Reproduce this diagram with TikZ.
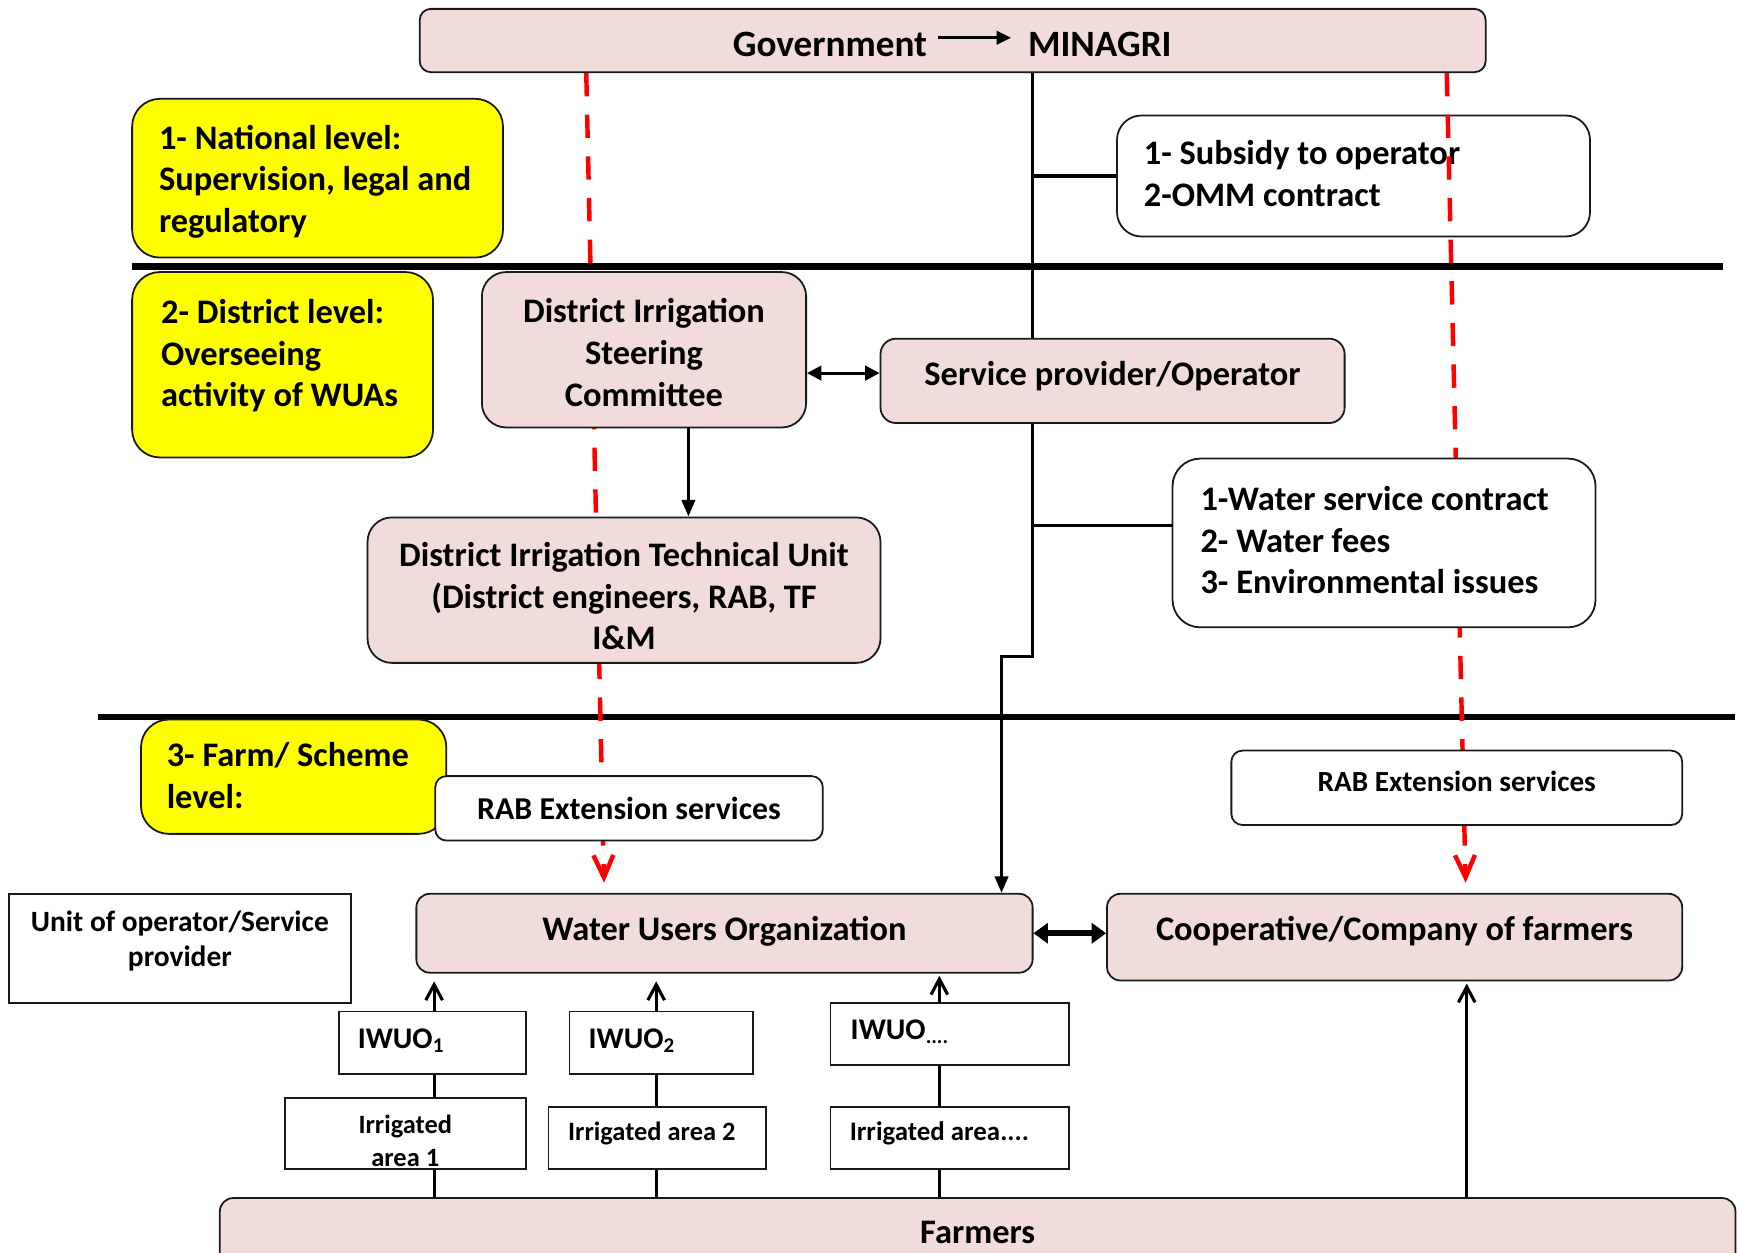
\documentclass[tikz,border=0pt]{standalone}
\usepackage{fontspec}
\setmainfont{Carlito}
\usetikzlibrary{arrows.meta,calc}
\definecolor{pinkbox}{HTML}{F2DCDB}
\definecolor{yel}{HTML}{FFFF00}
\definecolor{redd}{HTML}{FF0000}
\begin{document}
\begin{tikzpicture}[x=1pt,y=-1pt,
  box/.style={draw=black!90, line width=1.6pt, rounded corners=#1, inner sep=0pt, align=center,
    font=\bfseries\fontsize{31}{37.5}\selectfont},
  box/.default=12pt,
  sqbox/.style={draw=black!90, line width=1.6pt, inner sep=0pt, align=center, fill=white},
  txtL/.style={inner sep=0pt, align=left, anchor=west, font=\bfseries\fontsize{31}{37.5}\selectfont},
  txtC/.style={inner sep=0pt, align=center, font=\bfseries\fontsize{31}{37.5}\selectfont},
  conn/.style={line width=2.8pt, draw=black},
  solidtip/.style={-{Triangle[length=15pt,width=12pt]}},
  barbtip/.style={-{Straight Barb[length=14pt,width=15pt]}},
  reddash/.style={draw=redd, line width=4pt, dash pattern=on 21pt off 16.5pt,
    -{Straight Barb[length=20pt,width=18pt]}},
  thickline/.style={line width=5.5pt, draw=black}
]
\useasboundingbox (0,0) rectangle (1568,1128);

% level separators
\coordinate (h1a) at (119,240);
\coordinate (h1b) at (1552,240);
\coordinate (h2a) at (88,646);
\coordinate (h2b) at (1563,646);
\draw[thickline] (h1a) -- (h1b);
\draw[thickline] (h2a) -- (h2b);

% government box
\node[box=10pt, fill=pinkbox, minimum width=960pt, minimum height=57pt] (gov) at (858,36.5) {};
\node[txtC, font=\bfseries\fontsize{33.5}{40}\selectfont] (govL) at (747.5,40) {Government};
\node[txtC, font=\bfseries\fontsize{33.5}{40}\selectfont] (govR) at (990.5,40) {MINAGRI};
\draw[line width=2.4pt, -{Triangle[length=13pt,width=12pt]}] ([xshift=10pt,yshift=6pt]govL.east) -- ([xshift=-15pt,yshift=6pt]govR.west);

% subsidy box (under the red line)
\node[box=22pt, fill=white, minimum width=426pt, minimum height=109pt] (sub) at (1219,158.5) {};
\node[txtL] (subT) at (1030,156.5) {1- Subsidy to operator\\2-OMM contract};

% red dashed lines
\coordinate (rl) at (528,0);
\coordinate (rlEnd) at (544,795);
\coordinate (rr) at (1303,0);
\coordinate (rrEnd) at (1320,795);
\draw[reddash] (gov.south -| rl) -- (rlEnd);
\draw[reddash] (gov.south -| rr) -- (rrEnd);

% level labels
\node[box=25pt, fill=yel, minimum width=334pt, minimum height=143pt] (nat) at (286,160.5) {};
\node[txtL] (natT) at (143,163.5) {1- National level:\\Supervision, legal and\\regulatory};
\node[box=25pt, fill=yel, minimum width=271pt, minimum height=167pt] (dis) at (254.5,328.5) {};
\node[txtL] (disT) at (145,320.5) {2- District level:\\Overseeing\\activity of WUAs};
\node[box=25pt, fill=yel, minimum width=275pt, minimum height=103pt] (farmlvl) at (264.5,699.5) {};
\node[txtL] (farmlvlT) at (150,698.5) {3- Farm/ Scheme\\level:};

% district boxes
\node[box=22pt, fill=pinkbox, minimum width=292pt, minimum height=140pt] (disc) at (580,315) {};
\node[txtC] (discT) at (580,317.5) {District Irrigation\\Steering\\Committee};
\node[box=14pt, fill=pinkbox, minimum width=418pt, minimum height=76pt, text height=23pt, text depth=15pt] (sp) at (1002,343)
  {Service provider/Operator};
\node[box=25pt, fill=white, minimum width=381pt, minimum height=152pt] (ws) at (1246.5,489) {};
\node[txtL] (wsT) at (1081,486.5) {1-Water service contract\\2- Water fees\\3- Environmental issues};
\node[box=22pt, fill=pinkbox, minimum width=462pt, minimum height=131pt] (ditu) at (562,531.5) {};
\node[txtC] (dituT) at (562,537) {District Irrigation Technical Unit\\(District engineers, RAB, TF\\I\&M};

% extension services
\node[box=10pt, fill=white, minimum width=349pt, minimum height=58pt,
  font=\bfseries\fontsize{28.7}{35}\selectfont] (rabL) at (566.5,728) {RAB Extension services};
\node[box=10pt, fill=white, minimum width=406pt, minimum height=67pt, text height=19pt, text depth=12.5pt,
  font=\bfseries\fontsize{26.3}{32}\selectfont] (rabR) at (1312,709.5) {RAB Extension services};

% farm level
\node[sqbox, minimum width=308pt, minimum height=98pt] (unit) at (162,854) {};
\node[txtC, font=\bfseries\fontsize{26.5}{31}\selectfont] (unitT) at (162,847.5) {Unit of operator/Service\\provider};
\node[box=12pt, fill=pinkbox, minimum width=555pt, minimum height=71pt, text height=23pt, text depth=10pt] (wuo) at (652.5,840.5)
  {Water Users Organization};
\node[box=12pt, fill=pinkbox, minimum width=518pt, minimum height=78pt, text height=23pt, text depth=17pt] (coop) at (1256,844)
  {Cooperative/Company of farmers};

\node[sqbox, minimum width=169pt, minimum height=56pt] (iw1) at (389.5,939) {};
\node[txtL, font=\bfseries\fontsize{27}{32}\selectfont] (iw1T) at (322,937) {IWUO\textsubscript{1}};
\node[sqbox, minimum width=165pt, minimum height=56pt] (iw2) at (595.5,939) {};
\node[txtL, font=\bfseries\fontsize{27}{32}\selectfont] (iw2T) at (530,937) {IWUO\textsubscript{2}};
\node[sqbox, minimum width=215pt, minimum height=56pt] (iw3) at (855.5,931) {};
\node[txtL, font=\bfseries\fontsize{27}{32}\selectfont] (iw3T) at (766,929) {IWUO\textsubscript{....}};

\node[sqbox, minimum width=217pt, minimum height=64pt] (ia1) at (365.5,1021) {};
\node[txtC, font=\bfseries\fontsize{23.8}{29}\selectfont] (ia1T) at (365,1027.5) {Irrigated\\area 1};
\node[sqbox, minimum width=196pt, minimum height=56pt] (ia2) at (592,1025) {};
\node[txtC, font=\bfseries\fontsize{23.8}{29}\selectfont] (ia2T) at (587,1021) {Irrigated area 2};
\node[sqbox, minimum width=215pt, minimum height=56pt] (ia3) at (855.5,1025) {};
\node[txtC, font=\bfseries\fontsize{24.2}{29}\selectfont] (ia3T) at (846,1021) {Irrigated area....};

\node[box=12pt, fill=pinkbox, minimum width=1365pt, minimum height=62pt] (farm) at (880.5,1110) {Farmers};

% black connectors
\coordinate (trunk) at (930,0);
\coordinate (jog) at (902,591);
\coordinate (c1) at (391,0);
\coordinate (c2) at (591,0);
\coordinate (c3) at (846,0);
\coordinate (c4) at (1321,0);
\draw[conn] (gov.south -| trunk) -- (sp.north -| trunk);
\draw[conn] (sub.west) -- (sub.west -| trunk);
\draw[conn, solidtip] (sp.south -| trunk) -- (trunk |- jog) -- (jog) -- (wuo.north -| jog);
\draw[conn] ($(ws.west)+(0,-16)$) -- ($(ws.west -| trunk)+(0,-16)$);
\draw[conn, solidtip] ($(disc.south)+(40,0)$) -- ($(disc.south |- ditu.north)+(40,0)$);
\draw[conn, {Triangle[length=13pt,width=13pt]}-{Triangle[length=13pt,width=13pt]}]
  ($(disc.east)+(0,21)$) -- ($(sp.west)+(0,-7)$);
\draw[line width=5pt, {Triangle[length=13pt,width=18pt]}-{Triangle[length=13pt,width=18pt]}]
  (wuo.east) -- (wuo.east -| coop.west);

\draw[conn, barbtip, shorten >=7pt] (iw1.north -| c1) -- (wuo.south -| c1);
\draw[conn, barbtip, shorten >=7pt] (iw2.north -| c2) -- (wuo.south -| c2);
\draw[conn, barbtip, shorten >=2pt] (iw3.north -| c3) -- (wuo.south -| c3);
\draw[conn] (iw1.south -| c1) -- (ia1.north -| c1);
\draw[conn] (ia1.south -| c1) -- (farm.north -| c1);
\draw[conn] (iw2.south -| c2) -- (ia2.north -| c2);
\draw[conn] (ia2.south -| c2) -- (farm.north -| c2);
\draw[conn] (iw3.south -| c3) -- (ia3.north -| c3);
\draw[conn] (ia3.south -| c3) -- (farm.north -| c3);
\draw[conn, barbtip, shorten >=2pt] (farm.north -| c4) -- (coop.south -| c4);
\end{tikzpicture}
\end{document}
